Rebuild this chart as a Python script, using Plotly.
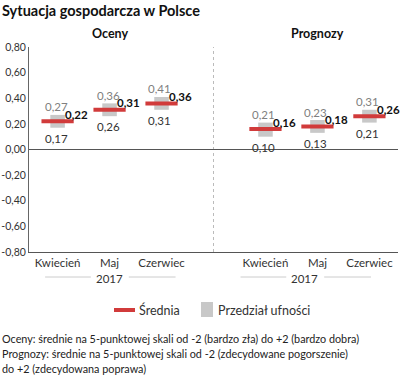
import plotly.graph_objects as go

months = ["Kwiecień", "Maj", "Czerwiec"]
oceny_mean = [0.22, 0.31, 0.36]
oceny_low = [0.17, 0.26, 0.31]
oceny_high = [0.27, 0.36, 0.41]
progn_mean = [0.16, 0.18, 0.26]
progn_low = [0.10, 0.13, 0.21]
progn_high = [0.21, 0.23, 0.31]
y_ticks = [0.8, 0.6, 0.4, 0.2, 0.0, -0.2, -0.4, -0.6, -0.8]
legend_labels = ["Średnia", "Przedział ufności"]

pos_left = [1, 2, 3]
pos_right = [5, 6, 7]
xs = pos_left + pos_right
means = oceny_mean + progn_mean
lows = oceny_low + progn_low
highs = oceny_high + progn_high

RED = "#d13b3b"
GRAY = "#c8c8c8"
FONT = "Lato"

T, B, H = 47, 129, 381
PH = H - T - B
L, W = 29, 369


def py(px):
    return (H - B - px) / PH


def pxx(px):
    return (px - L) / W


def fmt(v):
    return f"{v:.2f}".replace(".", ",")


fig = go.Figure()

fig.add_trace(go.Bar(
    x=xs, y=[h - l for h, l in zip(highs, lows)], base=lows, width=0.28,
    marker=dict(color=GRAY, line=dict(width=0)), name=legend_labels[1],
    showlegend=False, hoverinfo="skip"))

lx, ly = [], []
for x, m in zip(xs, means):
    lx += [x - 0.31, x + 0.31, None]
    ly += [m, m, None]
fig.add_trace(go.Scatter(x=lx, y=ly, mode="lines", line=dict(color=RED, width=4),
                         name=legend_labels[0], showlegend=False, hoverinfo="skip"))

annotations = []
for x, m, lo, hi in zip(xs, means, lows, highs):
    annotations.append(dict(x=x + 0.12, y=m, xref="x", yref="y", text="<b>" + fmt(m) + "</b>",
                            showarrow=False, xanchor="left", yanchor="middle", yshift=7,
                            borderpad=0, font=dict(family=FONT, size=11.5, color="#111")))
    annotations.append(dict(x=x - 0.03, y=hi, xref="x", yref="y", text=fmt(hi),
                            showarrow=False, xanchor="center", yanchor="middle", yshift=8,
                            font=dict(family=FONT, size=11.5, color="#808080")))
    annotations.append(dict(x=x - 0.03, y=lo, xref="x", yref="y", text=fmt(lo),
                            showarrow=False, xanchor="center", yanchor="middle", yshift=-10.5,
                            font=dict(family=FONT, size=11.5, color="#333")))

annotations += [
    dict(x=2, y=py(34), xref="x", yref="paper", text="<b>Oceny</b>", showarrow=False,
         font=dict(family=FONT, size=12.5, color="#111"), yanchor="middle"),
    dict(x=6, y=py(34), xref="x", yref="paper", text="<b>Prognozy</b>", showarrow=False,
         font=dict(family=FONT, size=12.5, color="#111"), yanchor="middle"),
    dict(x=pxx(0), y=py(10), xref="paper", yref="paper", text="<b>Sytuacja gospodarcza w Polsce</b>",
         showarrow=False, xanchor="left", yanchor="middle", font=dict(family=FONT, size=14.5, color="#111")),
]
year_centers = [2.0, 5.76]
for c in year_centers:
    annotations.append(dict(x=c, y=py(278), xref="x", yref="paper", text="2017", showarrow=False,
                            font=dict(family=FONT, size=11.5, color="#333"), yanchor="middle"))

annotations.append(dict(x=pxx(137), y=py(310), xref="paper", yref="paper", text=legend_labels[0],
                        showarrow=False, xanchor="left", yanchor="middle",
                        font=dict(family=FONT, size=12.5, color="#333")))
annotations.append(dict(x=pxx(216), y=py(310), xref="paper", yref="paper", text=legend_labels[1],
                        showarrow=False, xanchor="left", yanchor="middle",
                        font=dict(family=FONT, size=12.5, color="#333")))

foot = ["Oceny: średnie na 5-punktowej skali od -2 (bardzo zła) do +2 (bardzo dobra)",
        "Prognozy: średnie na 5-punktowej skali od -2 (zdecydowane pogorszenie)",
        "do +2 (zdecydowana poprawa)"]
for i, t in enumerate(foot):
    annotations.append(dict(x=pxx(0), y=py(338 + 15 * i), xref="paper", yref="paper", text=t,
                            showarrow=False, xanchor="left", yanchor="middle",
                            font=dict(family=FONT, size=10.8, color="#222")))

shapes = [
    dict(type="line", xref="x", yref="paper", x0=4, x1=4, y0=0, y1=1,
         line=dict(color="#bbb", width=1, dash="dot")),
    dict(type="line", xref="paper", yref="y", x0=0, x1=1, y0=0, y1=0,
         line=dict(color="#555", width=1.2)),
    dict(type="line", xref="paper", yref="paper", x0=pxx(114), x1=pxx(135), y0=py(310), y1=py(310),
         line=dict(color=RED, width=4)),
    dict(type="rect", xref="paper", yref="paper", x0=pxx(201), x1=pxx(213), y0=py(317), y1=py(302),
         line=dict(width=0), fillcolor=GRAY),
]
ys = py(277)
for c in year_centers:
    shapes.append(dict(type="line", xref="x", yref="paper", x0=c - 1.24, x1=c - 0.36, y0=ys, y1=ys,
                       line=dict(color="#ccc", width=1)))
    shapes.append(dict(type="line", xref="x", yref="paper", x0=c + 0.37, x1=c + 1.27, y0=ys, y1=ys,
                       line=dict(color="#ccc", width=1)))

fig.update_layout(
    width=400, height=381,
    margin=dict(l=L, r=2, t=T, b=B),
    paper_bgcolor="white", plot_bgcolor="white",
    font=dict(family=FONT, size=10, color="#333"),
    barmode="overlay", showlegend=False,
    xaxis=dict(range=[0.45, 7.55], tickvals=xs, ticktext=months + months, showgrid=False,
               zeroline=False, showline=True, linecolor="#555", linewidth=1.2, ticks="",
               tickfont=dict(family=FONT, size=11.5, color="#333"), fixedrange=True),
    yaxis=dict(range=[-0.8, 0.8], tickvals=y_ticks, ticktext=[fmt(v) for v in y_ticks],
               showgrid=False, zeroline=False, showline=True, linecolor="#666", linewidth=1,
               ticks="", tickfont=dict(family=FONT, size=10.5, color="#333"), fixedrange=True),
    annotations=annotations, shapes=shapes,
)

fig.write_html("out.html", post_script="document.body.style.margin='0';",
               config={"displayModeBar": False})
